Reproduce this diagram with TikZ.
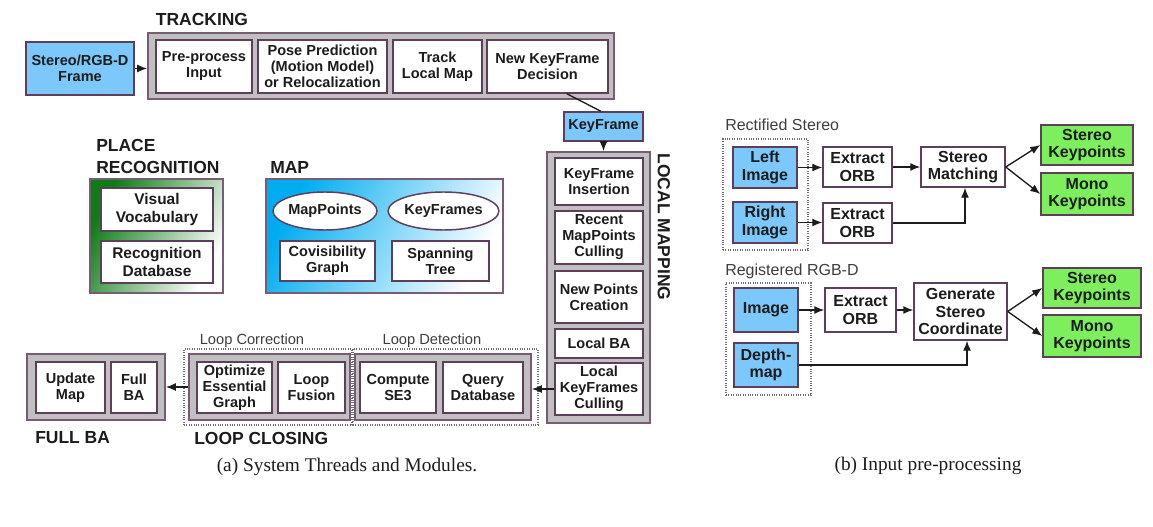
\documentclass[tikz,border=0pt]{standalone}
\usepackage{fontspec}
\setmainfont{Liberation Serif}
\setsansfont{Liberation Sans}
\usetikzlibrary{shapes.geometric,arrows.meta,calc}

\definecolor{bdr}{RGB}{95,62,92}
\definecolor{gfill}{RGB}{192,192,192}
\definecolor{gbdr}{RGB}{120,92,118}
\definecolor{bfill}{RGB}{125,200,250}
\definecolor{kfill}{RGB}{125,238,92}
\definecolor{mapblue}{RGB}{0,172,240}
\definecolor{pgreen}{RGB}{10,125,20}
\definecolor{txt}{RGB}{28,28,28}
\definecolor{dotc}{RGB}{110,110,110}

\begin{document}
\begin{tikzpicture}[x=0.75pt,y=-0.75pt,
  wh/.style 2 args={minimum width=#1*0.75pt,minimum height=#2*0.75pt},
  base/.style={draw=bdr,line width=1.1pt,inner sep=0pt,align=center,text=txt,
    font=\sffamily\bfseries\fontsize{10.9}{12}\selectfont},
  wbox/.style={base,fill=white},
  bbox/.style={base,fill=bfill},
  gbox/.style={base,fill=kfill},
  bfont/.style={font=\sffamily\bfseries\fontsize{12}{13}\selectfont},
  prfont/.style={font=\sffamily\bfseries\fontsize{11.6}{13.5}\selectfont},
  thread/.style={draw=gbdr,line width=1.3pt,fill=gfill,inner sep=0pt},
  dotbox/.style={draw=dotc,densely dotted,line width=0.8pt,inner sep=0pt},
  title/.style={inner sep=0pt,text=txt,align=left,font=\sffamily\bfseries\fontsize{13.1}{15.8}\selectfont},
  sub/.style={inner sep=0pt,text=txt!85,font=\sffamily\fontsize{11}{13}\selectfont},
  subb/.style={inner sep=0pt,text=txt!85,font=\sffamily\fontsize{12}{14}\selectfont},
  captxt/.style={inner sep=0pt,text=txt,font=\rmfamily\fontsize{14.5}{17}\selectfont},
  conn/.style={line width=1pt,draw=txt},
  arr/.style={conn,-{Latex[length=7.5pt,width=6pt]}}
]
\fill[white] (0,0) rectangle (1153,527);

% ---------------- TRACKING ----------------
\node[thread, wh={466}{66}] (trk) at (381,66) {};
\node[bbox, wh={108}{53}] (srf) at (80,68.5) {Stereo/RGB-D\\Frame};
\node[wbox, wh={96}{53}] (ppi) at (204,66.5) {Pre-process\\Input};
\node[wbox, wh={129}{53}] (pose) at (322.5,66.5) {Pose Prediction\\(Motion Model)\\or Relocalization};
\node[wbox, wh={89}{53}] (tlm) at (437.5,66.5) {Track\\Local Map};
\node[wbox, wh={121}{53}] (nkf) at (547.5,66.5) {New KeyFrame\\Decision};
\node[title] (ttrk) at (202,19) {TRACKING};

\node[bbox, wh={79}{29}] (kf) at (603.5,126.5) {KeyFrame};

% ---------------- LOCAL MAPPING ----------------
\node[thread, wh={103}{271}] (lm) at (598.5,287.5) {};
\node[wbox, wh={88}{47}] (kfi) at (599,181.5) {KeyFrame\\Insertion};
\node[wbox, wh={88}{53}] (rmc) at (599,237.5) {Recent\\MapPoints\\Culling};
\node[wbox, wh={88}{52}] (npc) at (599,297) {New Points\\Creation};
\node[wbox, wh={88}{29}] (lba) at (599,343.5) {Local BA};
\node[wbox, wh={88}{52}] (lkc) at (599,389) {Local\\KeyFrames\\Culling};
\node[title, rotate=-90] (tlmap) at (664,227) {LOCAL MAPPING};

% ---------------- PLACE RECOGNITION ----------------
\node[draw=gbdr, line width=1pt, wh={133}{114}, top color=pgreen, bottom color=white, shading angle=62] (pr) at (156.5,236) {};
\node[wbox, prfont, wh={112}{43}] (vv) at (157,209.5) {Visual\\Vocabulary};
\node[wbox, prfont, wh={112}{42}] (rd) at (157,262) {Recognition\\Database};
\node[title, anchor=west] (tpr) at (96,156.5) {PLACE\\RECOGNITION};

% ---------------- MAP ----------------
\node[draw=gbdr, line width=1pt, wh={237}{114}, top color=mapblue, bottom color=white, shading angle=62] (map) at (384.5,236) {};
\node[wbox, ellipse, wh={104}{38}] (mp) at (325,211) {MapPoints};
\node[wbox, ellipse, wh={103}{38}] (kfs) at (443.5,211) {KeyFrames};
\node[wbox, wh={95}{40}] (cg) at (327.5,261) {Covisibility\\Graph};
\node[wbox, wh={97}{40}] (st) at (440.5,261) {Spanning\\Tree};
\node[title, anchor=west] (tmap) at (270,167) {MAP};

% ---------------- LOOP CLOSING ----------------
\node[dotbox, wh={168}{76}] (lcd) at (268,387) {};
\node[dotbox, wh={185}{76}] (ldd) at (445.5,387) {};
\node[thread, wh={161}{66}] (lc) at (269.5,387) {};
\node[thread, wh={176}{66}] (ld) at (443,387) {};
\node[wbox, wh={75}{51}] (oeg) at (234.5,387.5) {Optimize\\Essential\\Graph};
\node[wbox, wh={67}{51}] (lf) at (311.5,387.5) {Loop\\Fusion};
\node[wbox, wh={76}{51}] (cse) at (398,387.5) {Compute\\SE3};
\node[wbox, wh={80}{51}] (qd) at (483,387.5) {Query\\Database};
\node[sub] (tlcor) at (252,341) {Loop Correction};
\node[sub] (tldet) at (432,341) {Loop Detection};
\node[title, anchor=west] (tlc) at (194,438) {LOOP CLOSING};

% ---------------- FULL BA ----------------
\node[thread, wh={138}{66}] (fb) at (96,387) {};
\node[wbox, wh={69}{51}] (um) at (70.5,387.5) {Update\\Map};
\node[wbox, wh={46}{51}] (fba) at (134,387.5) {Full\\BA};
\node[title, anchor=west] (tfb) at (35,438) {FULL BA};

\node[captxt] (capa) at (347,467) {(a) System Threads and Modules.};

% connectors (a)
\draw[arr] (srf.east) -- (srf.east -| trk.west);
\draw[conn] ([xshift=14.5pt]nkf.south) -- ([xshift=-2pt]kf.north);
\draw[arr] (kf.south) -- (kf.south |- lm.north);
\draw[arr] (lkc.west) -- (lkc.west -| ld.east);
\draw[arr] (lc.west) -- (lc.west -| fb.east);

% ---------------- (b) Rectified Stereo ----------------
\node[subb, anchor=west] (trs) at (725,125) {Rectified Stereo};
\node[dotbox, wh={85}{111}] (d1) at (765.5,194.5) {};
\node[bbox, bfont, wh={64}{41}] (li) at (765,167.5) {Left\\Image};
\node[bbox, bfont, wh={64}{41}] (ri) at (765,222.5) {Right\\Image};
\node[wbox, bfont, wh={69}{40}] (eo1) at (857.5,167) {Extract\\ORB};
\node[wbox, bfont, wh={69}{40}] (eo2) at (857.5,223) {Extract\\ORB};
\node[wbox, bfont, wh={84}{40}] (sm) at (963,167) {Stereo\\Matching};
\node[gbox, bfont, wh={92}{40}] (sk1) at (1087,145) {Stereo\\Keypoints};
\node[gbox, bfont, wh={92}{42}] (mk1) at (1087,194) {Mono\\Keypoints};

\draw[arr] (li.east) -- (li.east -| eo1.west);
\draw[arr] (eo1.east) -- (eo1.east -| sm.west);
\draw[arr] (ri.east) -- (ri.east -| eo2.west);
\draw[arr] (eo2.east) -| ([xshift=1.5pt]sm.south);
\draw[arr] (sm.east) -- (sk1.west);
\draw[arr] (sm.east) -- (mk1.west);

% ---------------- (b) Registered RGB-D ----------------
\node[subb, anchor=west] (trg) at (725,271) {Registered RGB-D};
\node[dotbox, wh={85}{112}] (d2) at (768.5,339) {};
\node[bbox, bfont, wh={64}{44}] (img) at (766,310) {Image};
\node[bbox, bfont, wh={64}{44}] (dm) at (766,365) {Depth-\\map};
\node[wbox, bfont, wh={71}{44}] (eo3) at (860.5,310) {Extract\\ORB};
\node[wbox, bfont, wh={93}{57}] (gsc) at (960.5,311.5) {Generate\\Stereo\\Coordinate};
\node[gbox, bfont, wh={98}{40}] (sk2) at (1092,288) {Stereo\\Keypoints};
\node[gbox, bfont, wh={98}{42}] (mk2) at (1092,336) {Mono\\Keypoints};

\draw[arr] (img.east) -- (img.east -| eo3.west);
\draw[arr] (eo3.east) -- (eo3.east -| gsc.west);
\draw[arr] (dm.east) -| ([xshift=4.9pt]gsc.south);
\draw[arr] (gsc.east) -- (sk2.west);
\draw[arr] (gsc.east) -- (mk2.west);

\node[captxt] (capb) at (928,466) {(b) Input pre-processing};
\end{tikzpicture}
\end{document}
